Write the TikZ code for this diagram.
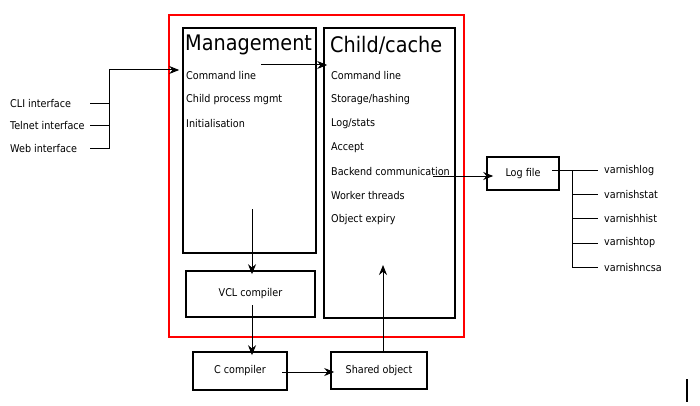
\documentclass[tikz,border=0pt]{standalone}
\usepackage{fontspec}
\setmainfont{DejaVu Sans Condensed}
\usetikzlibrary{arrows.meta,positioning}

\begin{document}
\begin{tikzpicture}[x=1pt,y=-1pt,
    box/.style={draw, line width=1.6pt, inner sep=0pt},
    item/.style={anchor=west, inner sep=0pt, font=\fontsize{10.7}{12}\selectfont},
    title/.style={anchor=west, inner sep=0pt, font=\fontsize{21.4}{24}\selectfont},
    arr/.style={-{Stealth[length=10pt,width=8pt]}, line width=1pt}]
       \useasboundingbox (0,0) rectangle (700,406);

       %Defining nodes
       \node[draw=red, line width=1.4pt, minimum width=295, minimum height=322] (varnishd) at (316.5,176) {};
       \node[box, minimum width=133, minimum height=225] (mgmt) at (249.5,140.5) {};
       \node[box, minimum width=131, minimum height=290] (child) at (389.5,173) {};
       \node[box, minimum width=129, minimum height=46] (vcl) at (250.5,294) {};
       \node[box, minimum width=94, minimum height=38] (ccomp) at (240,371) {};
       \node[box, minimum width=96, minimum height=37] (shared) at (379,370.5) {};
       \node[box, minimum width=72, minimum height=33] (logfile) at (523,173.5) {};

       \node[title] (mgmttitle) at (185,45) {Management};
       \node[title] (childtitle) at (330,45) {Child/cache};
       \foreach \t [count=\i] in {Command line, Child process mgmt, Initialisation}
           \node[item] (mg\i) at (186,52+24*\i) {\t};
       \foreach \t [count=\i] in {Command line, Storage/hashing, Log/stats, Accept, Backend communication, Worker threads, Object expiry}
           \node[item] (cc\i) at (331,52+24*\i) {\t};
       \node[item, anchor=center] (vcltext) at (vcl.center) {VCL compiler};
       \node[item, anchor=center] (cctext) at (ccomp.center) {C compiler};
       \node[item, anchor=center] (sotext) at (shared.center) {Shared object};
       \node[item, anchor=center] (lftext) at (logfile.center) {Log file};

       \node[item] (cli) at (10,104) {CLI interface};
       \node[item] (telnet) at (10,126) {Telnet interface};
       \node[item] (web) at (10,149) {Web interface};

       \foreach \t/\n [count=\i] in {varnishlog/vlog, varnishstat/vstat, varnishhist/vhist, varnishtop/vtop, varnishncsa/vncsa}
           \node[item] (\n) at (604,146+24.25*\i) {\t};

       \coordinate (stub) at (90,0);
       \coordinate (join) at (109,70);
       \coordinate (m2c) at (261,65);
       \coordinate (mdown) at (252,209);
       \coordinate (vclout) at (252,305);
       \coordinate (ccout) at (282,372);
       \coordinate (soup) at (383,352);
       \coordinate (soend) at (383,265);
       \coordinate (backend) at (433,176);
       \coordinate (lfout) at (552,170);
       \coordinate (spine) at (572,170);

       %Drawing Diagram
       \draw[line width=1pt] (cli -| stub) -| (join);
       \draw[line width=1pt] (telnet -| stub) -- (telnet -| join);
       \draw[line width=1pt] (web -| stub) -| (join);
       \draw[arr, shorten >=3pt] (join) -- (join -| mgmt.west);
       \draw[arr, shorten >=-4pt] (m2c) -- (m2c -| child.west);
       \draw[arr, shorten >=-4pt] (mdown) -- (mdown |- vcl.north);
       \draw[arr, shorten >=-4pt] (vclout) -- (vclout |- ccomp.north);
       \draw[arr, shorten >=-4pt] (ccout) -- (ccout -| shared.west);
       \draw[arr] (soup) -- (soend);
       \draw[arr, shorten >=-7pt] (backend) -- (backend -| logfile.west);
       \draw[line width=1pt] (lfout) -- (spine) |- ([xshift=-6pt]vncsa.west);
       \foreach \n in {vlog, vstat, vhist, vtop}
           \draw[line width=1pt] (spine |- \n.west) -- ([xshift=-6pt]\n.west);
       \draw[line width=1.2pt] (687,379) -- (687,402);
\end{tikzpicture}
\end{document}
